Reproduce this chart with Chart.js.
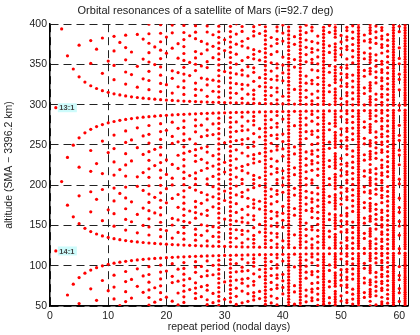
<!DOCTYPE html>
<html>
<head>
<meta charset="utf-8">
<script src="https://cdn.jsdelivr.net/npm/chart.js@4/dist/chart.umd.min.js"></script>
<style>
  html, body { margin: 0; padding: 0; background: #fff; }
  canvas { display: block; }
</style>
</head>
<body>
<canvas id="resChart" width="420" height="335"></canvas>
<script>
// Repeat periods on the x axis (nodal days)
const repeatPeriods = [1, 2, 3, 4, 5, 6, 7, 8, 9, 10, 11, 12, 13, 14, 15, 16, 17, 18, 19, 20,
  21, 22, 23, 24, 25, 26, 27, 28, 29, 30, 31, 32, 33, 34, 35, 36, 37, 38, 39, 40,
  41, 42, 43, 44, 45, 46, 47, 48, 49, 50, 51, 52, 53, 54, 55, 56, 57, 58, 59, 60, 61];
// Mars parameters: GM (km^3/s^2), radius (km), J2, sidereal rotation (s), inclination (deg)
const marsParams = [42828.37, 3396.2, 1.96045e-3, 88642.66, 92.7];
const altRange = [50, 400];
const xTicks = [0, 10, 20, 30, 40, 50, 60];
const yTicks = [50, 100, 150, 200, 250, 300, 350, 400];
// labelled resonances [revs, days]
const resonanceLabels = [[13, 1], [14, 1]];

const [GM, RM, J2, SIDEREAL, INC_DEG] = marsParams;

// altitude of an orbit doing `ratio` revolutions per nodal day
function altitudeFor(ratio) {
  const inc = INC_DEG * Math.PI / 180;
  const s2 = Math.sin(inc) ** 2, ci = Math.cos(inc);
  const wM = 2 * Math.PI / SIDEREAL;
  let a = 3700;
  for (let k = 0; k < 40; k++) {
    const n0 = Math.sqrt(GM / a ** 3);
    const f = J2 * (RM / a) ** 2;
    const nodeRate = -1.5 * n0 * f * ci;
    const uRate = ratio * (wM - nodeRate);
    const n = uRate / (1 + 0.75 * f * (6 - 8 * s2));
    a = Math.cbrt(GM / (n * n));
  }
  return a - RM;
}

function gcd(a, b) { return b ? gcd(b, a % b) : a; }

const points = [];
repeatPeriods.forEach(d => {
  for (let n = Math.floor(12.2 * d); n <= Math.ceil(14.6 * d); n++) {
    if (gcd(n, d) !== 1) continue;
    const h = altitudeFor(n / d);
    if (h >= altRange[0] && h <= altRange[1] + 0.5) points.push({ x: d, y: h });
  }
});

const FONT = 'Liberation Sans, Arial, Helvetica, sans-serif';

const labelPlugin = {
  id: 'resLabels',
  afterDatasetsDraw(chart) {
    const { ctx, scales: { x, y }, chartArea } = chart;
    ctx.save();
    // right edge of the box
    ctx.strokeStyle = '#000';
    ctx.lineWidth = 1;
    ctx.beginPath();
    ctx.moveTo(chartArea.right + 0.5, chartArea.top);
    ctx.lineTo(chartArea.right + 0.5, chartArea.bottom);
    ctx.stroke();
    resonanceLabels.forEach(([n, d]) => {
      const px = x.getPixelForValue(d);
      const py = y.getPixelForValue(altitudeFor(n / d));
      ctx.fillStyle = '#cdfbfb';
      ctx.fillRect(px + 2, py - 4.5, 19, 9);
      ctx.fillStyle = '#444';
      ctx.font = 'bold 7.5px ' + FONT;
      ctx.textBaseline = 'middle';
      ctx.fillText(n + ':' + d, px + 3.5, py + 0.5);
    });
    ctx.restore();
  }
};

new Chart(document.getElementById('resChart').getContext('2d'), {
  type: 'scatter',
  data: {
    datasets: [{
      data: points,
      pointRadius: 1.6,
      pointBorderWidth: 0,
      pointBackgroundColor: '#ff0000',
      pointBorderColor: '#ff0000'
    }]
  },
  options: {
    responsive: false,
    animation: false,
    events: [],
    layout: { padding: { left: 3, right: 12, top: 0, bottom: 2 } },
    plugins: {
      legend: { display: false },
      tooltip: { enabled: false },
      title: {
        display: true,
        text: 'Orbital resonances of a satellite of Mars (i=92.7 deg)',
        color: '#222',
        font: { family: FONT, size: 11, weight: 'normal' },
        padding: { top: 4, bottom: 7 }
      }
    },
    scales: {
      x: {
        type: 'linear',
        min: 0,
        max: 61.5,
        afterBuildTicks: s => { s.ticks = xTicks.map(v => ({ value: v })); },
        afterFit: s => { s.height = 27; },
        ticks: { color: '#222', font: { family: FONT, size: 10.5 }, padding: 4 },
        grid: { color: '#222', lineWidth: 1, drawTicks: false },
        border: { color: '#000', width: 1.5, dash: [8, 5] },
        title: { display: true, text: 'repeat period (nodal days)', color: '#222',
          font: { family: FONT, size: 10.5 }, padding: { top: 0, bottom: 0 } }
      },
      y: {
        type: 'linear',
        min: 50,
        max: 400,
        afterBuildTicks: s => { s.ticks = yTicks.map(v => ({ value: v })); },
        afterFit: s => { s.width = 47; },
        ticks: { color: '#222', font: { family: FONT, size: 10.5 }, padding: 3 },
        grid: { color: '#222', lineWidth: 1, drawTicks: false },
        border: { color: '#000', width: 1.5, dash: [8, 5] },
        title: { display: true, text: 'altitude (SMA \u2212 3396.2 km)', color: '#222',
          font: { family: FONT, size: 10.5 }, padding: { top: 0, bottom: 0 } }
      }
    }
  },
  plugins: [labelPlugin]
});
</script>
</body>
</html>
